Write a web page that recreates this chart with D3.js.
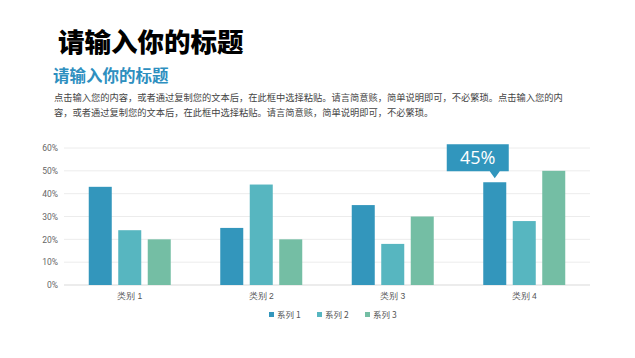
<!DOCTYPE html>
<html><head><meta charset="utf-8">
<script src="https://cdn.jsdelivr.net/npm/d3@7"></script>
<style>body{margin:0;background:#fff;}svg{display:block;font-family:"Noto Sans CJK SC","Noto Sans",sans-serif;}</style>
</head><body><div id="c"></div>
<script>
const categories = ["类别 1","类别 2","类别 3","类别 4"];
const seriesNames = ["系列 1","系列 2","系列 3"];
const series1 = [0.43,0.25,0.35,0.45];
const series2 = [0.24,0.44,0.18,0.28];
const series3 = [0.20,0.20,0.30,0.50];
const yTicks = [0,0.1,0.2,0.3,0.4,0.5,0.6];
const colors = ["#3396bc","#57b6c0","#74bea4"];
const calloutLabel = "45%";
const titleText = "请输入你的标题";
const subTitleText = "请输入你的标题";
const paraLines = ["点击输入您的内容，或者通过复制您的文本后，在此框中选择粘贴。请言简意赅，简单说明即可，不必繁琐。点击输入您的内",
"容，或者通过复制您的文本后，在此框中选择粘贴。请言简意赅，简单说明即可，不必繁琐。"];

const W=635,H=358;
const svg=d3.select("#c").append("svg").attr("width",W).attr("height",H);
svg.append("text").attr("x",58).attr("y",52).attr("font-size",26.5).attr("font-weight",900).attr("fill","#000").text(titleText);
svg.append("text").attr("x",53).attr("y",82).attr("font-size",16.5).attr("font-weight",700).attr("fill","#2e8fbf").text(subTitleText);
paraLines.forEach((l,i)=>svg.append("text").attr("x",54).attr("y",101+i*14.5).attr("font-size",9.25).attr("fill","#444").text(l));

const x0=d3.scaleBand().domain(categories).range([64,590]);
const y=d3.scaleLinear().domain([0,0.6]).range([285,148]);
const x1=d3.scaleBand().domain(seriesNames).range([0,82]).paddingInner(0.22);

const grid=svg.append("g");
grid.selectAll("line").data(yTicks).join("line")
 .attr("x1",64).attr("x2",590).attr("y1",d=>y(d)).attr("y2",d=>y(d))
 .attr("stroke",d=>d===0?"#d9d9d9":"#ececec").attr("stroke-width",1);

const yAxis=d3.axisLeft(y).tickValues(yTicks).tickFormat(d3.format(".0%")).tickSize(0).tickPadding(6);
const ya=svg.append("g").attr("transform","translate(64,0)").call(yAxis);
ya.select(".domain").remove();
ya.selectAll("text").attr("font-size",8.5).attr("fill","#666").attr("font-family","Roboto,'Noto Sans',sans-serif");

const xAxis=d3.axisBottom(x0).tickSize(0).tickPadding(8);
const xa=svg.append("g").attr("transform","translate(0,285)").call(xAxis);
xa.select(".domain").remove();
xa.selectAll("text").attr("font-size",8.5).attr("fill","#555");

const allSeries=[series1,series2,series3];
const data=[];
categories.forEach((c,i)=>seriesNames.forEach((s,j)=>data.push({c,s,v:allSeries[j][i],j})));
svg.append("g").selectAll("rect").data(data).join("rect")
 .attr("x",d=>x0(d.c)+x0.bandwidth()/2-41+x1(d.s))
 .attr("width",x1.bandwidth())
 .attr("y",d=>y(d.v)).attr("height",d=>y(0)-y(d.v))
 .attr("fill",d=>colors[d.j]);

// callout on series1 of category 4
const ci=3;
const bx=x0(categories[ci])+x0.bandwidth()/2-41+x1(seriesNames[0])+x1.bandwidth()/2;
const by=y(series1[ci]);
const g=svg.append("g");
const bxL=bx-48, bxR=bx+14, bTop=by-38, bBot=by-11;
g.append("path").attr("d",`M${bxL},${bTop}H${bxR}V${bBot}H${bx+5}L${bx},${by-4}L${bx-5},${bBot}H${bxL}Z`).attr("fill","#3196bd");
g.append("text").attr("x",(bxL+bxR)/2).attr("y",bTop+20).attr("text-anchor","middle").attr("font-size",18).attr("fill","#fff").attr("font-family","'Open Sans',Roboto,sans-serif").text(calloutLabel);

// legend
const leg=svg.append("g").attr("transform","translate(269,315)");
seriesNames.forEach((s,j)=>{
 const lg=leg.append("g").attr("transform",`translate(${j*48},0)`);
 lg.append("rect").attr("x",0).attr("y",-3).attr("width",5).attr("height",5).attr("fill",colors[j]);
 lg.append("text").attr("x",8).attr("y",3).attr("font-size",8.5).attr("fill","#555").text(s);
});
</script></body></html>
